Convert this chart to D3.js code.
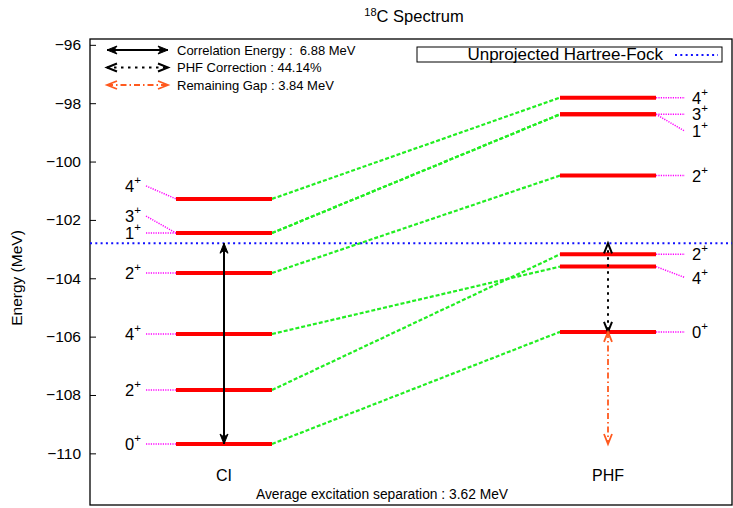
<!DOCTYPE html>
<html>
<head>
<meta charset="utf-8">
<script src="https://cdn.jsdelivr.net/npm/d3@7"></script>
<style>
  html, body { margin: 0; padding: 0; background: #fff; }
  svg { display: block; font-family: "Liberation Sans", Arial, sans-serif; }
  text { white-space: pre; }
</style>
</head>
<body>
<svg id="chart" width="733" height="508"></svg>
<script>
// Level schemes of 18C: CI and projected Hartree-Fock (PHF), energies in MeV.
const categories = ["CI", "PHF"];
const spins = ["0", "2", "4", "2", "1", "3", "4"];
const ciEnergy  = [-109.68, -107.83, -105.91, -103.82, -102.45, -102.45, -101.28];
const phfEnergy = [-105.837, -103.18, -103.60, -100.48, -98.38, -98.38, -97.81];
const hfEnergy = -102.80;              // unprojected Hartree-Fock
const avgSeparation = 3.62;            // MeV
const yTicks = [-96, -98, -100, -102, -104, -106, -108, -110];

// Derived quantities shown in the legend
const corrEnergy = hfEnergy - ciEnergy[0];
const phfCorrection = (hfEnergy - phfEnergy[0]) / corrEnergy * 100;
const remainingGap = phfEnergy[0] - ciEnergy[0];

const svg = d3.select("#chart");
const plot = { left: 90, top: 39, right: 732, bottom: 505 };

const y = d3.scaleLinear().domain([-111.77, -95.8]).range([plot.bottom, plot.top]);
const x = d3.scalePoint().domain(categories).range([224, 608]);
const halfBar = 48;

// Title
const title = svg.append("text").attr("x", 414).attr("y", 22)
  .attr("text-anchor", "middle").attr("font-size", 16.5);
title.append("tspan").attr("font-size", 11).attr("dy", -6).text("18");
title.append("tspan").attr("dy", 6).text("C Spectrum");

// Y axis
const yAxis = d3.axisLeft(y).tickValues(yTicks).tickSize(-6).tickPadding(9)
  .tickFormat(d3.format("d"));
const gy = svg.append("g").attr("transform", `translate(${plot.left},0)`).call(yAxis);
gy.select(".domain").remove();
gy.selectAll("line").attr("stroke", "#000").attr("stroke-width", 1);
gy.selectAll("text").attr("font-size", 15.5).attr("font-family", "Liberation Sans, Arial, sans-serif").attr("fill", "#000");

svg.append("text")
  .attr("transform", `translate(22,${(plot.top + plot.bottom) / 2 + 6}) rotate(-90)`)
  .attr("text-anchor", "middle").attr("font-size", 15.5).text("Energy (MeV)");

// Frame
svg.append("rect").attr("x", plot.left).attr("y", plot.top)
  .attr("width", plot.right - plot.left).attr("height", plot.bottom - plot.top)
  .attr("fill", "none").attr("stroke", "#000").attr("stroke-width", 1.3);

const ciX = x("CI"), phfX = x("PHF");

// Correlation lines between matching states
svg.append("g").selectAll("line").data(spins).join("line")
  .attr("x1", ciX + halfBar).attr("y1", (d, i) => y(ciEnergy[i]))
  .attr("x2", phfX - halfBar).attr("y2", (d, i) => y(phfEnergy[i]))
  .attr("stroke", "#22ee22").attr("stroke-width", 2.2).attr("stroke-dasharray", "4,2");

// Spin labels with connectors
const ciNudge  = [0, 0, 0, 0, 0, -17, -13];
const phfNudge = [0, 0, 11, 0, 17, 0, 0];

function spinLabel(g, xPos, yPos, spin, anchor) {
  const t = g.append("text").attr("x", xPos).attr("y", yPos + 6)
    .attr("text-anchor", anchor).attr("font-size", 16.5);
  t.append("tspan").text(spin);
  t.append("tspan").attr("font-size", 11.5).attr("dy", -8).text("+");
}

const labels = svg.append("g");
spins.forEach((s, i) => {
  const yb = y(ciEnergy[i]), yl = yb + ciNudge[i];
  labels.append("line").attr("x1", 146).attr("y1", yl).attr("x2", ciX - halfBar).attr("y2", yb)
    .attr("stroke", "#ff00ff").attr("stroke-width", 1.5).attr("stroke-dasharray", "1.2,1.2");
  spinLabel(labels, 141, yl, s, "end");

  const yp = y(phfEnergy[i]), ylp = yp + phfNudge[i];
  labels.append("line").attr("x1", phfX + halfBar).attr("y1", yp).attr("x2", 685).attr("y2", ylp)
    .attr("stroke", "#ff00ff").attr("stroke-width", 1.5).attr("stroke-dasharray", "1.2,1.2");
  spinLabel(labels, 692, ylp, s, "start");
});

// Energy levels
const levels = svg.append("g");
[["CI", ciEnergy], ["PHF", phfEnergy]].forEach(([cat, es]) => {
  levels.selectAll(null).data(es).join("line")
    .attr("x1", x(cat) - halfBar).attr("x2", x(cat) + halfBar)
    .attr("y1", d => y(d)).attr("y2", d => y(d))
    .attr("stroke", "#ff0000").attr("stroke-width", 4);
});

// Unprojected Hartree-Fock reference line
svg.append("line").attr("x1", plot.left).attr("x2", plot.right)
  .attr("y1", y(hfEnergy)).attr("y2", y(hfEnergy))
  .attr("stroke", "#1010ff").attr("stroke-width", 2.2).attr("stroke-dasharray", "2,3.3");

// Double-headed arrows
function arrowHead(g, xt, yt, dx, dy, style) {
  // (dx, dy): unit vector pointing toward the tip
  const L = 10, w = 4, notch = 7;
  const bx = xt - dx * L, by = yt - dy * L;
  const px = -dy, py = dx;
  const p1 = [bx + px * w, by + py * w], p2 = [bx - px * w, by - py * w];
  if (style.filled) {
    const nx = xt - dx * notch, ny = yt - dy * notch;
    g.append("path").attr("d", `M${xt},${yt}L${p1}L${nx},${ny}L${p2}Z`)
      .attr("fill", style.color).attr("stroke", style.color).attr("stroke-width", 1);
  } else {
    g.append("path").attr("d", `M${p1}L${xt},${yt}L${p2}`)
      .attr("fill", "none").attr("stroke", style.color).attr("stroke-width", style.width);
  }
}
function doubleArrow(g, x1, y1, x2, y2, style) {
  g.append("line").attr("x1", x1).attr("y1", y1).attr("x2", x2).attr("y2", y2)
    .attr("stroke", style.color).attr("stroke-width", style.width)
    .attr("stroke-dasharray", style.dash || null);
  const len = Math.hypot(x2 - x1, y2 - y1);
  const dx = (x2 - x1) / len, dy = (y2 - y1) / len;
  arrowHead(g, x2, y2, dx, dy, style);
  arrowHead(g, x1, y1, -dx, -dy, style);
}
const corrStyle = { color: "#000", width: 2, filled: true };
const phfStyle  = { color: "#000", width: 2, dash: "2.5,4.5", filled: false };
const gapStyle  = { color: "#ff5a1f", width: 1.8, dash: "6,3,1.5,3", filled: false };

const arrows = svg.append("g");
doubleArrow(arrows, ciX, y(hfEnergy), ciX, y(ciEnergy[0]), corrStyle);
doubleArrow(arrows, phfX, y(hfEnergy), phfX, y(phfEnergy[0]), phfStyle);
doubleArrow(arrows, phfX, y(phfEnergy[0]), phfX, y(ciEnergy[0]), gapStyle);

// Legend (top left)
const leg = svg.append("g");
const legItems = [
  { style: corrStyle, text: `Correlation Energy :  ${corrEnergy.toFixed(2)} MeV` },
  { style: phfStyle,  text: `PHF Correction : ${phfCorrection.toFixed(2)}%` },
  { style: gapStyle,  text: `Remaining Gap : ${remainingGap.toFixed(2)} MeV` }
];
legItems.forEach((it, i) => {
  const ly = 50 + i * 17.5;
  doubleArrow(leg, 107, ly, 168, ly, it.style);
  leg.append("text").attr("x", 177).attr("y", ly + 4.5).attr("font-size", 13).text(it.text);
});

// Legend (top right)
svg.append("rect").attr("x", 417).attr("y", 47).attr("width", 305).attr("height", 15)
  .attr("fill", "#fff").attr("stroke", "#000").attr("stroke-width", 1);
svg.append("text").attr("x", 663).attr("y", 60).attr("text-anchor", "end")
  .attr("font-size", 17).text("Unprojected Hartree-Fock");
svg.append("line").attr("x1", 675).attr("x2", 718).attr("y1", 55).attr("y2", 55)
  .attr("stroke", "#1010ff").attr("stroke-width", 2.2).attr("stroke-dasharray", "2,3.3");

// Category labels
svg.append("g").selectAll("text").data(categories).join("text")
  .attr("x", d => x(d)).attr("y", 481).attr("text-anchor", "middle")
  .attr("font-size", 16).text(d => d);

svg.append("text").attr("x", 382).attr("y", 499).attr("text-anchor", "middle")
  .attr("font-size", 13.8).text(`Average excitation separation : ${avgSeparation.toFixed(2)} MeV`);
</script>
</body>
</html>
